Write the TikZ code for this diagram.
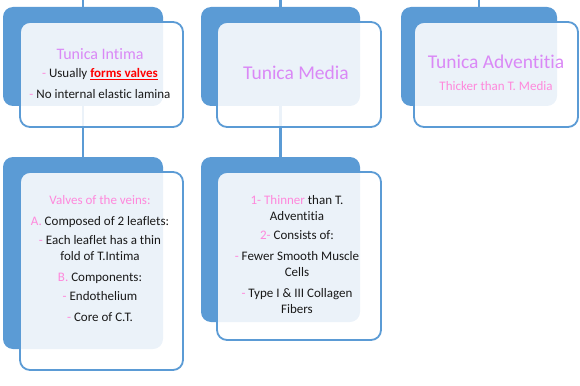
\documentclass[tikz,border=0pt]{standalone}
\usepackage{fontspec}
\setmainfont{Carlito}[Ligatures=NoCommon]
\usetikzlibrary{backgrounds}
\definecolor{cardblue}{RGB}{91,155,213}
\definecolor{headcol}{RGB}{218,136,246}
\definecolor{pk}{RGB}{255,136,220}
\definecolor{ink}{RGB}{25,25,25}
\newcommand{\dsh}{{\color{pk}-}~}
\newcommand{\redul}[1]{{\color{red}\setbox0\hbox{#1}\rlap{\rule[-3pt]{\wd0}{1.6pt}}\box0}}

\begin{document}
\begin{tikzpicture}[x=1pt,y=-1pt,
        back/.style={fill=cardblue,rounded corners=10pt,inner sep=0pt},
        front/.style={draw=cardblue,line width=1.8pt,fill=white,fill opacity=0.88,rounded corners=10pt,inner sep=0pt},
        link/.style={draw=cardblue,line width=2.2pt},
        txt/.style={align=center,text=ink,font=\fontsize{13}{16}\selectfont}]
        \useasboundingbox (0,0) rectangle (580,385);
        % top row
        \node[back,minimum width=160pt,minimum height=99pt] (intimaB) at (83,56.5) {};
        \node[front,minimum width=163pt,minimum height=105pt] (intimaF) at (101.5,74.5) {};
        \node[back,minimum width=159pt,minimum height=99pt] (mediaB) at (280.5,56.5) {};
        \node[front,minimum width=164pt,minimum height=105pt] (mediaF) at (299,74.5) {};
        \node[back,minimum width=156pt,minimum height=99pt] (adventB) at (479,56.5) {};
        \node[front,minimum width=164pt,minimum height=105pt] (adventF) at (496,74.5) {};
        % bottom row
        \node[back,minimum width=160pt,minimum height=192pt] (valvesB) at (83,253) {};
        \node[front,minimum width=163pt,minimum height=198pt] (valvesF) at (101.5,271) {};
        \node[back,minimum width=159pt,minimum height=165pt] (layersB) at (280.5,239.5) {};
        \node[front,minimum width=164pt,minimum height=168pt] (layersF) at (299,256) {};
        % texts
        \node[txt] (intimaT) at (100,73.5) {{\fontsize{16}{18}\selectfont\color{headcol}Tunica Intima}\\[2pt]
            \dsh Usually \redul{\textbf{forms valves}}\\[5pt]
            \dsh No internal elastic lamina};
        \node[txt,font=\fontsize{19.5}{22}\selectfont,text=headcol] (mediaT) at (296,73) {Tunica Media};
        \node[txt] (adventT) at (496,72.5) {{\fontsize{19.5}{22}\selectfont\color{headcol}Tunica Adventitia}\\[6pt]
            {\color{pk}Thicker than T. Media}};
        \node[txt] (valvesT) at (100,258.5) {{\color{pk}Valves of the veins:}\\[5pt]
            {\color{pk}A.}~Composed of 2 leaflets:\\[3pt]
            \dsh Each leaflet has a thin\\
            fold of T.Intima\\[5pt]
            {\color{pk}B.}~Components:\\[3pt]
            \dsh Endothelium\\[5pt]
            \dsh Core of C.T.};
        \node[txt] (layersT) at (297,255) {{\color{pk}1- Thinner} than T.\\
            Adventitia\\[3pt]
            {\color{pk}2-} Consists of:\\[5pt]
            \dsh Fewer Smooth Muscle\\
            Cells\\[5pt]
            \dsh Type I \& III Collagen\\
            Fibers};
        % connectors
        \coordinate (topI) at (83,0);
        \coordinate (topM) at (280.5,0);
        \coordinate (topA) at (479,0);
        \begin{pgfonlayer}{background}
            \draw[link] (topI) -- (valvesB.north);
            \draw[link] (topM) -- (layersB.north);
            \draw[link] (topA) -- (adventB.north);
        \end{pgfonlayer}
\end{tikzpicture}
\end{document}
